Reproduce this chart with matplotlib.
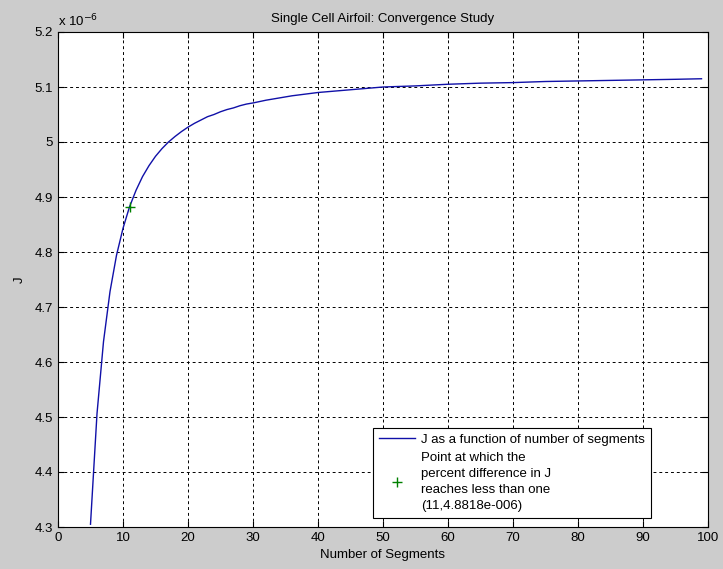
import matplotlib
matplotlib.use("Agg")
import matplotlib.pyplot as plt

plt.rcParams['font.family'] = ['Liberation Sans', 'DejaVu Sans']

# number of segments and J (units of 1e-6)
segments = [5, 6, 7, 8, 9, 10, 11, 12, 13, 14, 15, 16, 17, 18, 19, 20,
            21, 22, 23, 24, 25, 26, 27, 28, 29, 30, 32, 34, 36, 38, 40,
            42, 44, 46, 48, 50, 55, 60, 65, 70, 75, 80, 85, 90, 95, 99]
J = [4.305, 4.506, 4.637, 4.728, 4.794, 4.843, 4.882, 4.912, 4.937, 4.957,
     4.974, 4.988, 5.000, 5.010, 5.019, 5.027, 5.034, 5.040, 5.046, 5.050,
     5.055, 5.059, 5.062, 5.066, 5.069, 5.071, 5.076, 5.080, 5.084, 5.087,
     5.090, 5.092, 5.094, 5.096, 5.098, 5.100, 5.102, 5.105, 5.107, 5.108,
     5.110, 5.111, 5.112, 5.113, 5.114, 5.115]

conv_n = [11]
conv_J = [4.8818]

xticks = [0, 10, 20, 30, 40, 50, 60, 70, 80, 90, 100]
yticks = [4.3, 4.4, 4.5, 4.6, 4.7, 4.8, 4.9, 5.0, 5.1, 5.2]
ytick_labels = ['4.3', '4.4', '4.5', '4.6', '4.7', '4.8', '4.9', '5', '5.1', '5.2']

fs = 9.5
fig = plt.figure(figsize=(7.23, 5.69), dpi=100, facecolor='#cccccc')
ax = fig.add_axes([58/723, 1 - 527/569, 650/723, 495/569])
ax.set_facecolor('white')

ax.plot(segments, J, color='#1010a8', lw=1.0,
        label='J as a function of number of segments')
ax.plot(conv_n, conv_J, '+', color='#008000', ms=7, mew=1.0, ls='none',
        label='Point at which the\npercent difference in J\nreaches less than one\n(11,4.8818e-006)')

ax.set_xlim(0, 100)
ax.set_ylim(4.3, 5.2)
ax.set_xticks(xticks)
ax.set_yticks(yticks)
ax.set_yticklabels(ytick_labels)
ax.tick_params(direction='in', top=True, right=True, labelsize=fs, length=4, width=0.8)
ax.grid(True, color='black', linestyle=(0, (3, 3)), linewidth=0.7)
for s in ax.spines.values():
    s.set_linewidth(0.8)

ax.set_title('Single Cell Airfoil: Convergence Study', fontsize=fs, pad=7)
ax.set_xlabel('Number of Segments', fontsize=fs, labelpad=4)
ax.set_ylabel('J', fontsize=fs, labelpad=6)
ax.text(0.0, 1.005, r'x 10$^{-6}$', transform=ax.transAxes, fontsize=fs,
        ha='left', va='bottom')

leg = ax.legend(loc='lower right', bbox_to_anchor=(593/650, 9/495),
                fontsize=fs, fancybox=False, framealpha=1, edgecolor='black',
                borderaxespad=0, handlelength=2.7, labelspacing=0.45,
                borderpad=0.45, handletextpad=0.5)
leg.get_frame().set_linewidth(0.8)
for t in leg.get_texts():
    t.set_linespacing(1.45)

fig.savefig('out.png', dpi=100, facecolor=fig.get_facecolor())
